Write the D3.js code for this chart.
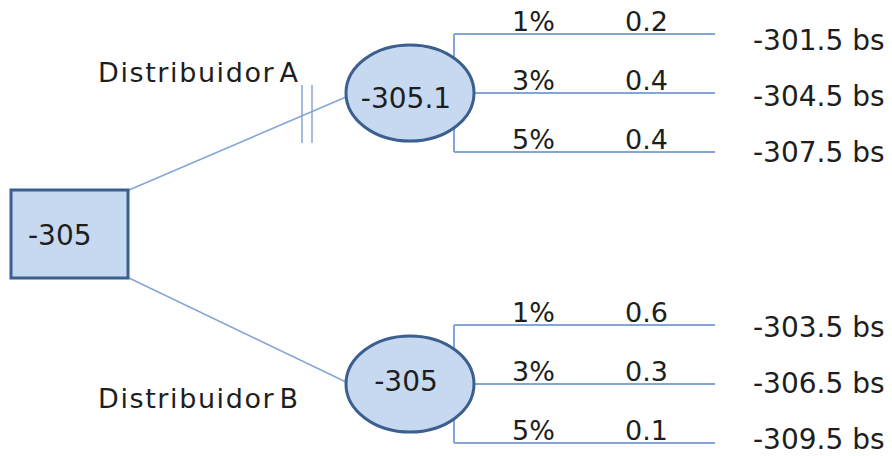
<!DOCTYPE html>
<html>
<head>
<meta charset="utf-8">
<script src="https://cdn.jsdelivr.net/npm/d3@7"></script>
<style>
  body { margin: 0; background: #fff; }
  text { font-family: "DejaVu Sans", sans-serif; fill: #1e1e1e; }
</style>
</head>
<body>
<svg id="tree" width="892" height="456"></svg>
<script>
// root decision
var rootValue = -305
// distributors
var distributors = ["Distribuidor A", "Distribuidor B"]
var nodeValues = ["-305.1", "-305"]
// branches per distributor
var rates = ["1%", "3%", "5%"]
var probsA = ["0.2", "0.4", "0.4"]
var probsB = ["0.6", "0.3", "0.1"]
var outcomesA = ["-301.5 bs", "-304.5 bs", "-307.5 bs"]
var outcomesB = ["-303.5 bs", "-306.5 bs", "-309.5 bs"]

var fillC = "#c6d9f1", strokeC = "#3b5f8e", lineC = "#84a6d6"

var svg = d3.select("#tree")

// vertical placement
var yNode = d3.scaleOrdinal().domain(distributors).range([93, 384])
var yOut = d3.scaleOrdinal().domain(distributors).range([106, 393])
var yBranch = d3.scaleLinear().domain([0, 2]).range([-59, 59])
var yOutOff = d3.scaleLinear().domain([0, 2]).range([-56, 56])

var root = { x: 11, y: 190, w: 117, h: 88 }
var ell = { cx: 410, rx: 64, ry: 48 }
var bracketX = 454, lineEnd = 715

var groups = distributors.map((d, i) => ({
  name: d,
  value: nodeValues[i],
  probs: i == 0 ? probsA : probsB,
  outs: i == 0 ? outcomesA : outcomesB,
  top: i == 0
}))

// connectors root -> chance nodes
svg.selectAll(".conn").data(groups).enter().append("line")
  .attr("x1", root.x + root.w + 1)
  .attr("y1", d => d.top ? root.y : root.y + root.h)
  .attr("x2", ell.cx - ell.rx)
  .attr("y2", d => yNode(d.name) + (d.top ? 4 : -2))
  .attr("stroke", lineC).attr("stroke-width", 1.5)

// cut marks on branch A
;[302, 312].forEach(x => {
  svg.append("line").attr("x1", x).attr("x2", x).attr("y1", 85).attr("y2", 143)
    .attr("stroke", lineC).attr("stroke-width", 1.5)
})

groups.forEach(g => {
  var cy = yNode(g.name)
  var G = svg.append("g")

  // bracket
  G.append("line").attr("x1", bracketX).attr("x2", bracketX)
    .attr("y1", cy + yBranch(0)).attr("y2", cy + yBranch(2))
    .attr("stroke", lineC).attr("stroke-width", 2)
  G.selectAll(".br").data(rates).enter().append("line")
    .attr("x1", (d, i) => i == 1 ? ell.cx + ell.rx : bracketX)
    .attr("x2", lineEnd)
    .attr("y1", (d, i) => cy + yBranch(i))
    .attr("y2", (d, i) => cy + yBranch(i))
    .attr("stroke", lineC).attr("stroke-width", 2)

  G.append("ellipse").attr("cx", ell.cx).attr("cy", cy)
    .attr("rx", ell.rx).attr("ry", ell.ry)
    .attr("fill", fillC).attr("stroke", strokeC).attr("stroke-width", 3)
  G.append("text").attr("x", ell.cx - 4).attr("y", cy + (g.top ? 15 : 7))
    .attr("text-anchor", "middle").style("font-size", "28px")
    .text(g.value)

  G.selectAll(".rate").data(rates).enter().append("text")
    .attr("x", 512).attr("y", (d, i) => cy + yBranch(i) - 3)
    .style("font-size", "27px").text(d => d)
  G.selectAll(".prob").data(g.probs).enter().append("text")
    .attr("x", 625).attr("y", (d, i) => cy + yBranch(i) - 3)
    .style("font-size", "27px").text(d => d)
  G.selectAll(".out").data(g.outs).enter().append("text")
    .attr("x", 753).attr("y", (d, i) => yOut(g.name) + yOutOff(i))
    .style("font-size", "28px").text(d => d)

  G.append("text").attr("x", 98).attr("y", g.top ? 82 : 408)
    .style("font-size", "27px").style("letter-spacing", "1.6px")
    .style("word-spacing", "-6px").text(g.name)
})

// root decision square
svg.append("rect").attr("x", root.x).attr("y", root.y)
  .attr("width", root.w).attr("height", root.h)
  .attr("fill", fillC).attr("stroke", strokeC).attr("stroke-width", 3)
svg.append("text").attr("x", 28).attr("y", 245)
  .style("font-size", "28px").text(rootValue)
</script>
</body>
</html>
